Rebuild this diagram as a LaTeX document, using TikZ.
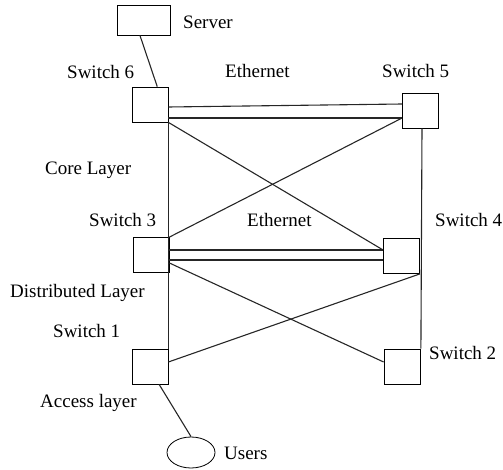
\documentclass[tikz,border=0pt]{standalone}
\usepackage{fontspec}
\newfontfamily\labelfont{Liberation Serif}
\usepackage{tikz}
\usetikzlibrary{shapes.geometric}

\begin{document}
\begin{tikzpicture}[
    x=1pt, y=-1pt,
    switchbox/.style={rectangle, draw, line width=0.8pt, minimum width=36pt, minimum height=35pt, inner sep=0pt},
    serverbox/.style={rectangle, draw, line width=0.8pt, minimum width=53pt, minimum height=30pt, inner sep=0pt},
    userblob/.style={ellipse, draw, line width=0.8pt, minimum width=48pt, minimum height=31pt, inner sep=0pt},
    lbl/.style={anchor=west, inner sep=0pt, font=\labelfont\fontsize{19}{22}\selectfont},
    link/.style={line width=1.1pt, draw=black!85}
  ]
    \useasboundingbox (0,0) rectangle (503,470);

    % Server and users
    \node[serverbox] (server) at (143.5,20) {};
    \node[userblob] (users) at (191,452.5) {};

    % Switches
    \node[switchbox] (sw6) at (150,104.5) {};
    \node[switchbox] (sw5) at (420.5,110.5) {};
    \node[switchbox] (sw3) at (151,255) {};
    \node[switchbox] (sw4) at (401.5,256) {};
    \node[switchbox] (sw1) at (150,366.5) {};
    \node[switchbox] (sw2) at (402,366.5) {};

    % Labels
    \node[lbl] (lserver) at (183,22) {Server};
    \node[lbl] (lsw6) at (67,72) {Switch 6};
    \node[lbl] (leth1) at (225,71) {Ethernet};
    \node[lbl] (lsw5) at (382,71) {Switch 5};
    \node[lbl] (lcore) at (45,170) {Core Layer};
    \node[lbl] (lsw3) at (89,220) {Switch 3};
    \node[lbl] (leth2) at (247,220) {Ethernet};
    \node[lbl] (lsw4) at (435,220) {Switch 4};
    \node[lbl] (ldist) at (10,293) {Distributed Layer};
    \node[lbl] (lsw1) at (53,331) {Switch 1};
    \node[lbl] (lsw2) at (429,353) {Switch 2};
    \node[lbl] (lacc) at (40,403) {Access layer};
    \node[lbl] (lusers) at (224,453) {Users};

    % Uplinks
    \draw[link] (server.257) -- (sw6.68);
    \draw[link] (sw1.297) -- (users.north);

    % Core ethernet (double line)
    \draw[link] ([yshift=-2.5pt]sw6.east) -- ([yshift=6.5pt]sw5.west);
    \draw[link] ([yshift=-13.5pt]sw6.east) -- ([yshift=-7.5pt]sw5.west);

    % Distributed ethernet (double line)
    \draw[link] ([yshift=5pt]sw3.east) -- ([yshift=6pt]sw4.west);
    \draw[link] ([yshift=-5pt]sw3.east) -- ([yshift=-4pt]sw4.west);

    % Verticals
    \draw[link] (sw6.south east) -- (sw1.north east);
    \draw[link] ([xshift=1.5pt]sw5.south) -- ([xshift=0.5pt]sw2.north east);

    % Cross links
    \draw[link] (sw6.south east) -- ([yshift=6pt]sw4.west);
    \draw[link] (sw3.north east) -- ([yshift=-7.5pt]sw5.west);
    \draw[link] ([yshift=-8pt]sw3.east) -- ([yshift=4.5pt]sw2.west);
    \draw[link] (sw4.south east) -- ([yshift=4.5pt]sw1.east);

  \end{tikzpicture}
\end{document}
